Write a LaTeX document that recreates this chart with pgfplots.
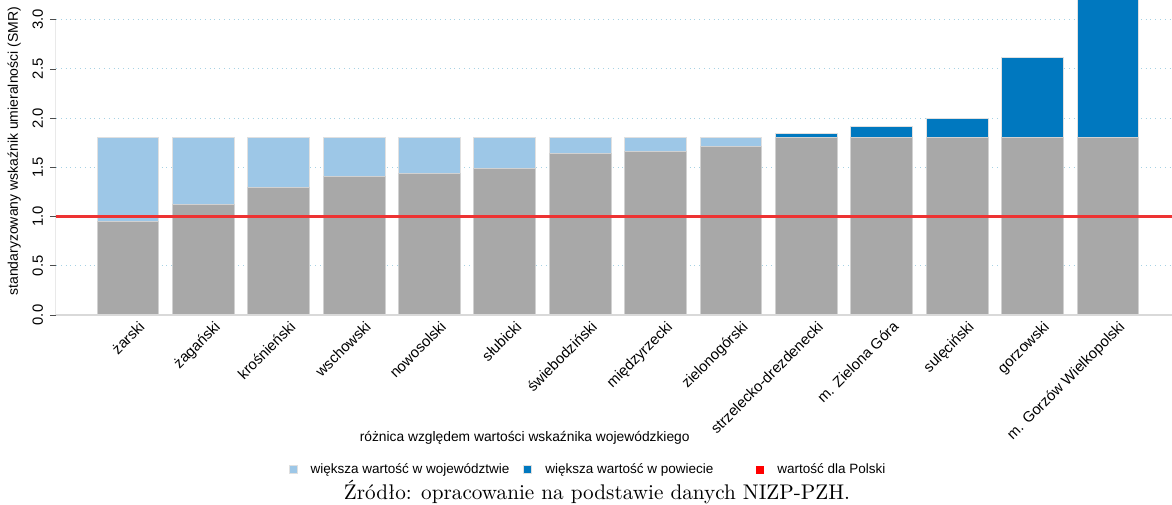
\documentclass[border=0pt]{standalone}
\usepackage{pgfplots}
\pgfplotsset{compat=1.18}
\usepackage{fontspec}
\setmainfont{Liberation Sans}
\newfontfamily\lmfont{Latin Modern Roman}

\definecolor{barGray}{HTML}{A8A8A8}
\definecolor{lightBlue}{HTML}{9DC7E7}
\definecolor{darkBlue}{HTML}{0078BF}
\definecolor{smrRed}{HTML}{EE3333}
\definecolor{gridBlue}{HTML}{A6D2E4}

% county SMR split: part up to the voivodeship value (1.8), gap below it, excess above it
\pgfplotstableread{
x base below above
0  0.945 0.855 0
1  1.12  0.68  0
2  1.30  0.50  0
3  1.41  0.39  0
4  1.44  0.36  0
5  1.49  0.31  0
6  1.64  0.16  0
7  1.66  0.14  0
8  1.71  0.09  0
9  1.80  0     0.04
10 1.80  0     0.11
11 1.80  0     0.20
12 1.80  0     0.82
13 1.80  0     1.55
}\smrdata

\begin{document}
\begin{tikzpicture}
\begin{axis}[
  width=558pt, height=157.5pt,
  scale only axis,
  xmin=-0.955, xmax=13.85,
  ymin=0, ymax=3.2,
  clip=true,
  ybar stacked,
  bar width=0.82,
  axis line style={draw=none},
  xtick=data,
  xticklabels={żarski,żagański,krośnieński,wschowski,nowosolski,słubicki,świebodziński,międzyrzecki,zielonogórski,strzelecko-drezdenecki,m. Zielona Góra,sulęciński,gorzowski,m. Gorzów Wielkopolski},
  xtick style={draw=none},
  xticklabel style={rotate=45, anchor=north east, inner sep=0pt, xshift=4pt, yshift=-3pt, font=\fontsize{7.4}{8}\selectfont},
  ytick={0,0.5,...,3.0},
  yticklabels={0.0,0.5,1.0,1.5,2.0,2.5,3.0},
  ytick pos=left,
  tick align=outside,
  major tick length=3pt,
  ytick style={draw=black!70, line width=0.4pt},
  yticklabel style={rotate=90, anchor=south, font=\fontsize{7.4}{8}\selectfont},
  ymajorgrids,
  grid style={gridBlue, dotted, line width=0.5pt},
  ylabel={standaryzowany wskaźnik umieralności (SMR)},
  ylabel style={font=\fontsize{7}{8}\selectfont, at={(ticklabel cs:0.52)}, yshift=-1pt},
  xlabel={różnica względem wartości wskaźnika wojewódzkiego},
  xlabel style={font=\fontsize{6.9}{8}\selectfont, at={(rel axis cs:0.42,-0.39)}, anchor=center},
  legend style={at={(rel axis cs:0.4776,-0.492)}, anchor=center, draw=none, fill=none,
    font=\fontsize{6.75}{8}\selectfont, legend columns=3,
    /tikz/column 1/.style={column sep=4.5pt},
    /tikz/column 3/.style={column sep=4.5pt},
    /tikz/column 5/.style={column sep=4.5pt},
    /tikz/column 2/.style={column sep=5pt},
    /tikz/column 4/.style={column sep=19.5pt}},
  legend cell align=left,
  legend image code/.code={\fill[#1] (0.5pt,-2pt) rectangle (4.5pt,2pt);},
]
\addplot[fill=barGray, draw=black!18, line width=0.5pt, forget plot] table[x=x, y=base] {\smrdata};
\addplot[fill=lightBlue, draw=black!12, line width=0.5pt] table[x=x, y=below] {\smrdata};
\addlegendentry{większa wartość w województwie}
\addplot[fill=darkBlue, draw=black!12, line width=0.5pt] table[x=x, y=above] {\smrdata};
\addlegendentry{większa wartość w powiecie}
\addlegendimage{fill=red, draw=none}
\addlegendentry{wartość dla Polski}
\end{axis}
\begin{axis}[
  width=558pt, height=157.5pt,
  scale only axis,
  xmin=-0.955, xmax=13.85,
  ymin=0, ymax=3.2,
  hide axis,
]
\addplot[black!15, line width=0.8pt] coordinates {(-0.955,0) (13.85,0)};
\addplot[black!70, line width=0.5pt] coordinates {(-0.955,0) (-0.955,3)};
\addplot[smrRed, line width=1.3pt] coordinates {(-0.955,1) (13.85,1)};
\coordinate (capt) at (rel axis cs:0.4848,-0.562);
\coordinate (bbsw) at (rel axis cs:0,0);
\coordinate (bbne) at (rel axis cs:1,1);
\end{axis}
\node[font=\lmfont\fontsize{10.6}{12}\selectfont, anchor=center, inner sep=0pt] at (capt) {Źródło: opracowanie na podstawie danych NIZP-PZH.};
\pgfresetboundingbox
\path[use as bounding box] ([xshift=-28pt,yshift=-94.5pt]bbsw) rectangle (bbne);
\end{tikzpicture}
\end{document}
